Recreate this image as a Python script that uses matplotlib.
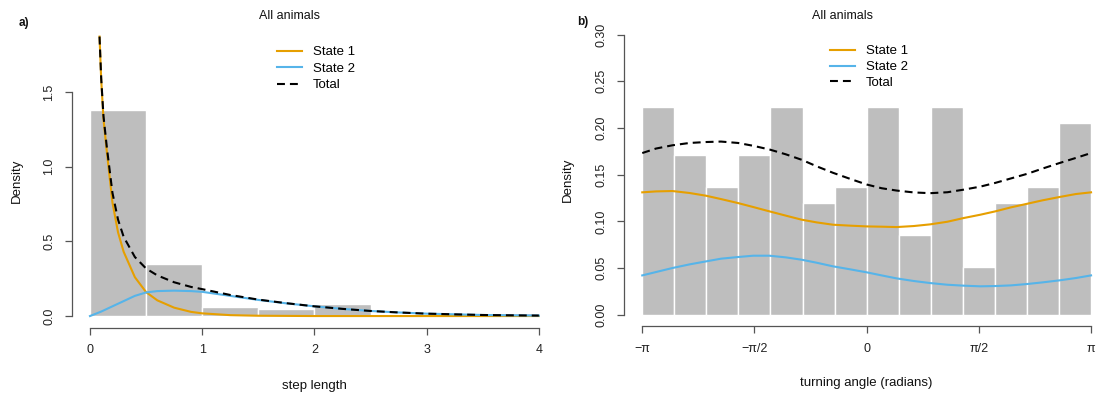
import numpy as np
import matplotlib
matplotlib.use("Agg")
import matplotlib.pyplot as plt

plt.rcParams['font.family'] = ['Liberation Sans', 'DejaVu Sans']

# ---- data ----
# a) step length
step_edges = [0, 0.5, 1.0, 1.5, 2.0, 2.5, 3.0, 3.5, 4.0]
step_density = [1.38, 0.346, 0.062, 0.05, 0.08, 0.0, 0.0, 0.02]

step_x = [0.085, 0.1, 0.12, 0.15, 0.2, 0.25, 0.3, 0.4, 0.5, 0.6, 0.75, 0.9,
          1.0, 1.25, 1.5, 1.75, 2.0, 2.25, 2.5, 2.75, 3.0, 3.5, 4.0]
step_state1 = [1.87, 1.58, 1.32, 1.10, 0.76, 0.56, 0.43, 0.26, 0.16, 0.105, 0.056, 0.028,
               0.018, 0.006, 0.002, 0.001, 0.0, 0.0, 0.0, 0.0, 0.0, 0.0, 0.0]
step_total = [1.87, 1.59, 1.34, 1.13, 0.825, 0.645, 0.53, 0.395, 0.318, 0.272, 0.226, 0.195,
              0.18, 0.141, 0.110, 0.086, 0.065, 0.048, 0.034, 0.024, 0.016, 0.007, 0.003]
s2_x = [0.0, 0.1, 0.2, 0.3, 0.4, 0.5, 0.6, 0.75, 0.9, 1.0, 1.25, 1.5, 1.75,
        2.0, 2.25, 2.5, 2.75, 3.0, 3.5, 4.0]
step_state2 = [0.0, 0.03, 0.065, 0.10, 0.135, 0.158, 0.167, 0.170, 0.167, 0.162, 0.135, 0.108, 0.085,
               0.065, 0.048, 0.034, 0.024, 0.016, 0.007, 0.003]

# b) turning angle
angle_density = [0.2228, 0.1714, 0.1371, 0.1714, 0.2228, 0.12, 0.1371,
                 0.2228, 0.0857, 0.2228, 0.0514, 0.12, 0.1371, 0.2057]
angle_x = [-3.1416, -2.95, -2.72, -2.48, -2.25, -2.04, -1.80, -1.59, -1.36, -1.13, -0.91, -0.70,
           -0.47, -0.23, 0.0, 0.21, 0.42, 0.66, 0.89, 1.13, 1.36, 1.59, 1.80, 2.02, 2.25,
           2.46, 2.70, 2.93, 3.1416]
angle_state1 = [0.1311, 0.1321, 0.1325, 0.1304, 0.1275, 0.1239, 0.1196, 0.1154, 0.1107, 0.1061,
                0.1018, 0.0989, 0.0964, 0.0954, 0.0946, 0.0943, 0.0939, 0.0950, 0.0968, 0.0996,
                0.1036, 0.1071, 0.1107, 0.1150, 0.1189, 0.1225, 0.1261, 0.1293, 0.1311]
angle_state2 = [0.0421, 0.0457, 0.0500, 0.0539, 0.0571, 0.0600, 0.0618, 0.0632, 0.0632, 0.0614,
                0.0589, 0.0557, 0.0518, 0.0486, 0.0454, 0.0421, 0.0389, 0.0361, 0.0339, 0.0321,
                0.0311, 0.0304, 0.0307, 0.0314, 0.0329, 0.0346, 0.0368, 0.0393, 0.0421]
angle_total = [0.1732, 0.1780, 0.1815, 0.1840, 0.1850, 0.1855, 0.1840, 0.1810, 0.1770, 0.1718,
               0.1660, 0.1590, 0.1520, 0.1455, 0.1395, 0.1355, 0.1330, 0.1310, 0.1302, 0.1312,
               0.1340, 0.1372, 0.1412, 0.1460, 0.1510, 0.1565, 0.1625, 0.1680, 0.1732]
angle_ticks = [-np.pi, -np.pi / 2, 0, np.pi / 2, np.pi]
angle_ticklabels = ['\u2212\u03c0', '\u2212\u03c0/2', '0', '\u03c0/2', '\u03c0']

ORANGE = '#E69F00'
BLUE = '#56B4E9'
W, H = 1099, 394


def fig_box(left, right, top, bottom):
    return [left / W, 1 - bottom / H, (right - left) / W, (bottom - top) / H]


def style_axes(ax):
    for s in ['top', 'right']:
        ax.spines[s].set_visible(False)
    for s in ['left', 'bottom']:
        ax.spines[s].set_color('#555555')
        ax.spines[s].set_linewidth(0.9)
    ax.tick_params(direction='out', length=5, width=0.9, color='#555555',
                   labelsize=9, labelcolor='#222222', pad=7)
    plt.setp(ax.get_yticklabels(), rotation=90, va='center')


fig = plt.figure(figsize=(W / 100, H / 100), dpi=100)

# ---- panel a ----
ax1 = fig.add_axes(fig_box(71.7, 556.8, 11.2, 327.7))
ax1.bar(step_edges[:-1], step_density, width=np.diff(step_edges), align='edge',
        color='#BEBEBE', edgecolor='white', linewidth=1.0)
ax1.plot(step_x, step_state1, color=ORANGE, lw=1.5, label='State 1')
ax1.plot(s2_x, step_state2, color=BLUE, lw=1.5, label='State 2')
ax1.plot(step_x, step_total, color='black', lw=1.5, dashes=(3.8, 2.4), label='Total')
ax1.set_xlim(-0.163, 4.16)
ax1.set_ylim(-0.078, 2.04)
ax1.set_xticks([0, 1, 2, 3, 4])
ax1.set_yticks([0, 0.5, 1.0, 1.5])
ax1.set_yticklabels(['0.0', '0.5', '1.0', '1.5'])
ax1.spines['left'].set_bounds(0, 1.5)
ax1.spines['bottom'].set_bounds(0, 4)
style_axes(ax1)
ax1.legend(loc='upper left', bbox_to_anchor=(277 / W, 1 - 46 / H),
           bbox_transform=fig.transFigure, frameon=False, fontsize=9.5,
           handlelength=1.9, handletextpad=0.8, labelspacing=0.33,
           borderpad=0, borderaxespad=0)

# ---- panel b ----
ax2 = fig.add_axes(fig_box(624.3, 1109, 23.5, 325.9))
bin_w = 2 * np.pi / len(angle_density)
bin_left = [-np.pi + i * bin_w for i in range(len(angle_density))]
ax2.bar(bin_left, angle_density, width=bin_w, align='edge',
        color='#BEBEBE', edgecolor='white', linewidth=1.0)
ax2.plot(angle_x, angle_state1, color=ORANGE, lw=1.5, label='State 1')
ax2.plot(angle_x, angle_state2, color=BLUE, lw=1.5, label='State 2')
ax2.plot(angle_x, angle_total, color='black', lw=1.5, dashes=(3.8, 2.4), label='Total')
ax2.set_xlim(-3.393, 3.393)
ax2.set_ylim(-0.012, 0.312)
ax2.set_xticks(angle_ticks)
ax2.set_xticklabels(angle_ticklabels)
ax2.set_yticks([0, 0.05, 0.10, 0.15, 0.20, 0.25, 0.30])
ax2.set_yticklabels(['0.00', '0.05', '0.10', '0.15', '0.20', '0.25', '0.30'])
ax2.spines['left'].set_bounds(0, 0.3)
ax2.spines['bottom'].set_bounds(-np.pi, np.pi)
style_axes(ax2)
ax2.legend(loc='upper left', bbox_to_anchor=(830 / W, 1 - 45 / H),
           bbox_transform=fig.transFigure, frameon=False, fontsize=9.5,
           handlelength=1.9, handletextpad=0.8, labelspacing=0.28,
           borderpad=0, borderaxespad=0)

# ---- titles and labels ----
def ftext(x, y, s, **kw):
    fig.text(x / W, 1 - y / H, s, ha='center', va='center', color='#111111', **kw)


ftext(289.5, 16, 'All animals', fontsize=9)
ftext(842, 16, 'All animals', fontsize=9)
ftext(24, 22.7, 'a)', fontsize=8.5, fontweight='bold')
ftext(583, 21.7, 'b)', fontsize=8.5, fontweight='bold')
ftext(17, 181, 'Density', fontsize=9.5, rotation=90)
ftext(568, 180, 'Density', fontsize=9.5, rotation=90)
ftext(314, 386, 'step length', fontsize=9.5)
ftext(866, 383, 'turning angle (radians)', fontsize=9.5)

fig.savefig('out.png', dpi=100)
